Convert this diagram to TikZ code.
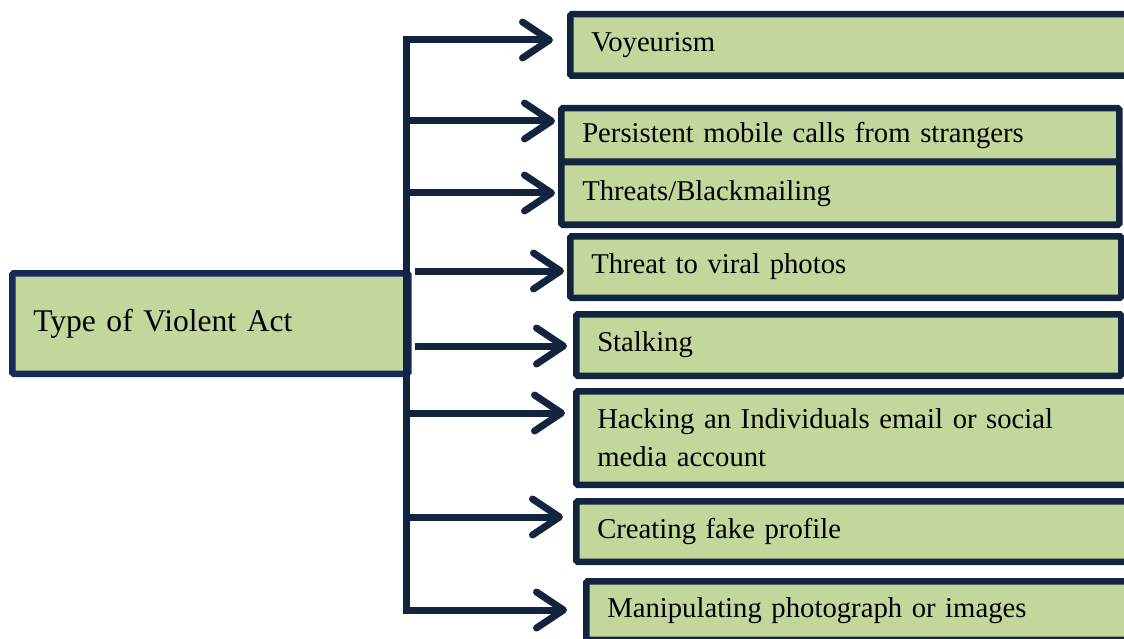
\documentclass[tikz,border=0pt]{standalone}
\usepackage{fontspec}
\setmainfont{Liberation Serif}
\usetikzlibrary{arrows.meta,shadows}

\definecolor{leafgreen}{HTML}{C3D69B}
\definecolor{navyline}{HTML}{13243F}
\definecolor{rootline}{HTML}{182A5A}

\tikzset{
  box/.style={draw=navyline, fill=leafgreen, line width=6.5pt, rounded corners=1.5pt,
    anchor=north west, align=left, inner xsep=21pt, inner ysep=0pt,
    font=\fontsize{28.7}{38}\selectfont,
    drop shadow={shadow xshift=2pt, shadow yshift=-2pt, opacity=0.25}},
  rootbox/.style={box, draw=rootline, inner xsep=21pt, font=\fontsize{31.6}{40}\selectfont},
  link/.style={draw=navyline, line width=7pt, -{Straight Barb[length=27pt,width=36pt,round]}},
}

\begin{document}
\begin{tikzpicture}[x=1pt, y=-1pt]
  \useasboundingbox (0,0) rectangle (1124,639);

  % the type of act
  \node[rootbox, text width=354pt, minimum height=100.5pt] (root) at (9,270) {Type of Violent Act};

  % the kinds of acts
  \node[box, text width=526pt, minimum height=61.5pt] (voy) at (567,11) {Voyeurism};
  \node[box, text width=516pt, minimum height=53.5pt] (per) at (558,105) {Persistent mobile calls from strangers};
  \node[box, text width=516pt, minimum height=62.5pt] (thr) at (558,159) {Threats/Blackmailing};
  \node[box, text width=509pt, minimum height=61.5pt] (vir) at (567,233) {Threat to viral photos};
  \node[box, text width=503pt, minimum height=61.5pt] (sta) at (573,311) {Stalking};
  \node[box, text width=520pt, minimum height=93.5pt] (hac) at (573,388) {Hacking an Individuals email or social\\media account};
  \node[box, text width=520pt, minimum height=60.5pt] (cre) at (573,498) {Creating fake profile};
  \node[box, text width=510pt, minimum height=58.5pt] (man) at (583,578) {Manipulating photograph or images};

  % the spine and where the arrows leave it
  \coordinate (s1) at (406,40);
  \coordinate (s2) at (406,121);
  \coordinate (s3) at (406,193);
  \coordinate (s4) at (415,271);
  \coordinate (s5) at (415,346);
  \coordinate (s6) at (406,413);
  \coordinate (s7) at (406,517);
  \coordinate (s8) at (406,610);
  \draw[draw=navyline, line width=7pt, line cap=rect] (s1) -- (s8);

  \foreach \s/\t/\g in {s1/voy/14, s2/per/3, s3/thr/3, s4/vir/3, s5/sta/6, s6/hac/8, s7/cre/10, s8/man/16}
    \draw[link, shorten >=\g pt] (\s) -- (\s -| \t.west);
\end{tikzpicture}
\end{document}
